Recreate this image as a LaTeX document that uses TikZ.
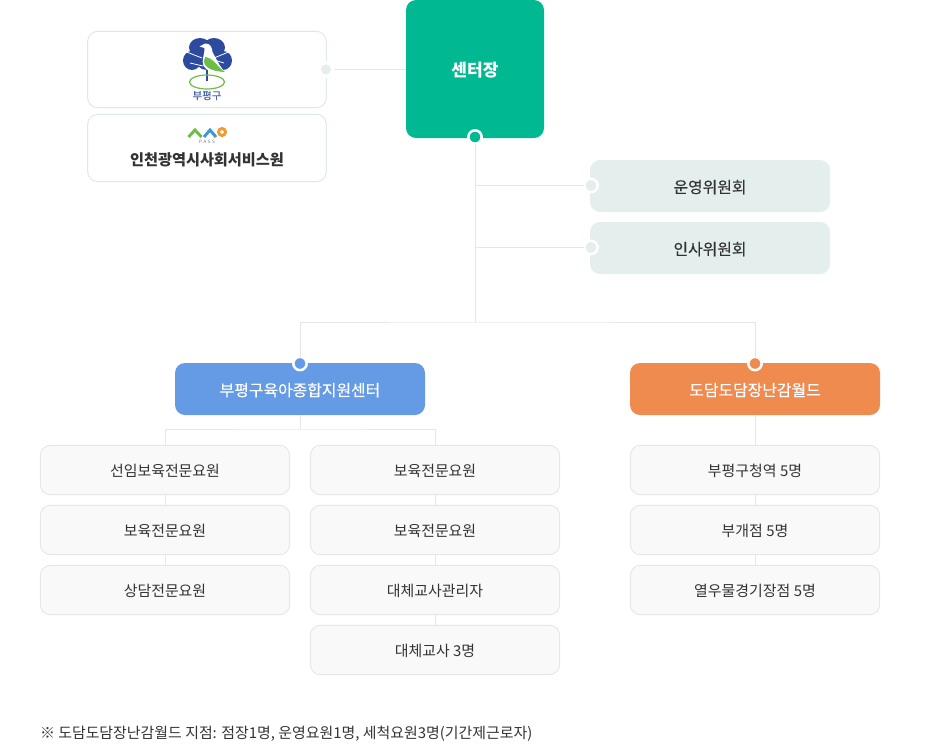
\documentclass[tikz,border=0pt]{standalone}
\usepackage{fontspec}
\setmainfont{Noto Sans CJK KR}
\newfontfamily\medfont[FakeBold=0.25]{Noto Sans CJK KR}
\usepackage{xcolor}
\usepackage{tikz}
\usetikzlibrary{positioning}
\definecolor{mint}{HTML}{00B892}
\definecolor{pale}{HTML}{E4EEEC}
\definecolor{paleline}{HTML}{DDE9E6}
\definecolor{sky}{HTML}{659BE5}
\definecolor{peach}{HTML}{EF8B4F}
\definecolor{rule}{HTML}{E6E6E6}
\definecolor{ink}{HTML}{333333}
\definecolor{gull}{HTML}{2C4A9E}
\definecolor{leaf}{HTML}{6DBE45}
\definecolor{amber}{HTML}{F39A2E}
\definecolor{pass}{HTML}{3F97D8}
\newcommand{\nudge}[1]{\smash{\raisebox{-0.8pt}{#1}}\vphantom{#1}}
\begin{document}
\begin{tikzpicture}[x=0.75pt,y=-0.75pt,node distance=7.5pt and 15pt,every node/.style={font=\fontsize{11.2pt}{13pt}\selectfont,text=ink,align=center,inner sep=0pt,outer sep=0pt},
logobox/.style={draw=paleline,line width=0.7pt,fill=white,rounded corners=7.5pt,minimum width=179pt},
commbox/.style={fill=pale,rounded corners=7.5pt,minimum width=180pt,minimum height=39pt,font=\fontsize{11.9pt}{14pt}\medfont},
headbox/.style={rounded corners=7.5pt,minimum width=187.5pt,minimum height=39pt,text=white,font=\fontsize{11.9pt}{14pt}\medfont},
staffbox/.style={draw=rule,line width=0.7pt,fill=black!2.5,rounded corners=7.5pt,minimum width=187pt,minimum height=37pt},
knot/.style={circle,draw=white,line width=1.9pt,minimum size=10pt},
link/.style={draw=rule,line width=0.75pt}]
\useasboundingbox (0,0) rectangle (950,743);
\coordinate (trunk) at (475,322);
\coordinate (blueFork) at (300,429);
\draw[link] (327,69.5) -- (406,69.5);
\node[fill=mint,rounded corners=7.5pt,minimum width=103.5pt,minimum height=103.5pt,text=white,font=\fontsize{12.8pt}{15pt}\selectfont\bfseries] (center) at (475,69) {\nudge{센터장}};
\node[logobox,minimum height=57.25pt] (guLogo) at (207,69.5) {};
\node[logobox,minimum height=50.5pt] (passLogo) at (207,148) {};
\node[knot,draw=none,fill=white,minimum size=13pt] (logoRing) at (326,69.5) {};
\node[circle,fill=pale,minimum size=7.5pt] (logoDot) at (326,69.5) {};
\node[commbox] (ops) at (710,186) {\nudge{운영위원회}};
\node[commbox] (hr) at (710,248) {\nudge{인사위원회}};
\node[knot,fill=mint] (centerDot) at (475,137) {};
\node[knot,fill=pale] (opsDot) at (591,185.5) {};
\node[knot,fill=pale] (hrDot) at (591,247.5) {};
\node[headbox,fill=sky] (blue) at (300,389) {\nudge{부평구육아종합지원센터}};
\node[headbox,fill=peach] (orange) at (755,389) {\nudge{도담도담장난감월드}};
\node[knot,fill=sky] (blueDot) at (300,363.5) {};
\node[knot,fill=peach] (orangeDot) at (755,363.5) {};
\node[staffbox] (a1) at (165,470) {\nudge{선임보육전문요원}};
\node[staffbox,below=8pt of a1] (a2) {\nudge{보육전문요원}};
\node[staffbox,below=8pt of a2] (a3) {\nudge{상담전문요원}};
\node[staffbox] (b1) at (435,470) {\nudge{보육전문요원}};
\node[staffbox,below=8pt of b1] (b2) {\nudge{보육전문요원}};
\node[staffbox,below=8pt of b2] (b3) {\nudge{대체교사관리자}};
\node[staffbox,below=8pt of b3] (b4) {\nudge{대체교사 3명}};
\node[staffbox] (c1) at (755,470) {\nudge{부평구청역 5명}};
\node[staffbox,below=8pt of c1] (c2) {\nudge{부개점 5명}};
\node[staffbox,below=8pt of c2] (c3) {\nudge{열우물경기장점 5명}};
\node[anchor=west] (note) at (40,733.5) {※ 도담도담장난감월드 지점: 점장1명, 운영요원1명, 세척요원3명(기간제근로자)};
\draw[link] (centerDot) -- (trunk);
\draw[link] (centerDot |- opsDot) -- (opsDot);
\draw[link] (centerDot |- hrDot) -- (hrDot);
\draw[link] (blueDot) |- (trunk) -| (orangeDot);
\draw[link] (blue) -- (blueFork);
\draw[link] (a1) |- (blueFork) -| (b1);
\draw[link] (a1) -- (a2);
\draw[link] (a2) -- (a3);
\draw[link] (b1) -- (b2);
\draw[link] (b2) -- (b3);
\draw[link] (b3) -- (b4);
\draw[link] (orange) -- (c1);
\draw[link] (c1) -- (c2);
\draw[link] (c2) -- (c3);
% gu logo
\fill[gull] (200,47.5) ellipse (11 and 9.5);
\fill[gull] (214,47.5) ellipse (11 and 9.5);
\fill[gull] (192,60.5) ellipse (9 and 9.5);
\fill[gull] (223,60.5) ellipse (9 and 9.5);
\fill[gull] (207,58) ellipse (12 and 12);
\draw[white,line width=0.6pt] (184,51) -- (202,58) (231,51) -- (214,58) (190,63) -- (203,66) (224,63) -- (214,60);
\fill[white] (205,43.5) .. controls (210,43) and (212,47) .. (212.5,52) .. controls (216,58) and (220,68) .. (226,72.5) .. controls (215,73.5) and (207,72) .. (203.5,66) .. controls (201,60) and (205,54) .. (204.5,48) -- (199.5,46.5) -- cycle;
\fill[leaf] (205,57) .. controls (202,63) and (205,71) .. (225,72) .. controls (218,68) and (214,58) .. (205,57) -- cycle;
\draw[gull,line width=1.2pt] (207,70) -- (207,81);
\draw[leaf,line width=0.9pt] (207,82) ellipse (17.5 and 7);
\node[text=gull!85!white,font=\fontsize{7.8pt}{8pt}\medfont] (guName) at (207,95.5) {부평구};
% pass logo
\draw[leaf,line width=2.2pt] (188.5,137) -- (195,130) -- (201.5,137);
\draw[pass,line width=2.2pt] (204,137) -- (210,130) -- (216,137);
\draw[amber,line width=2.2pt] (222,132) circle (3.5);
\node[text=black!55,font=\fontsize{3.4pt}{4pt}\selectfont] (passName) at (207,142.3) {P\,\,A\,\,S\,\,S};
\node[font=\fontsize{11.4pt}{14pt}\selectfont\bfseries] (passTitle) at (207,160) {인천광역시사회서비스원};
\end{tikzpicture}
\end{document}
